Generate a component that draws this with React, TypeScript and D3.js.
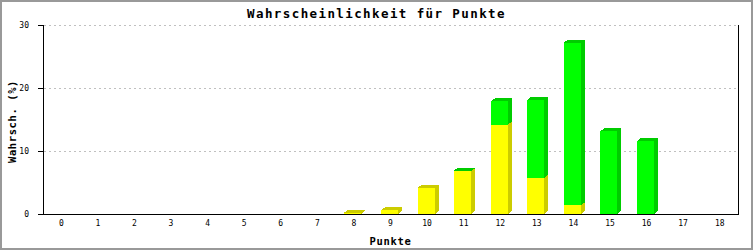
import React from "react";
import * as d3 from "d3";

const categories = ["0","1","2","3","4","5","6","7","8","9","10","11","12","13","14","15","16","17","18"];
const yellowValues = [0,0,0,0,0,0,0,0,0.2,0.6,4.2,6.8,14.2,5.7,1.4,0,0,0,0];
const greenValues = [0,0,0,0,0,0,0,0,0,0,0,0.1,3.7,12.4,25.8,13.1,11.6,0,0];
const yTicks = [0, 10, 20, 30];
const title = "Wahrscheinlichkeit für Punkte";
const xTitle = "Punkte";
const yTitle = "Wahrsch. (%)";

const W = 753, H = 250;
const L = 43, R = 738, T = 25, B = 214;
const DX = 4, DY = 3;
const BAR_W = 17;

const series = [
  { values: yellowValues, front: "#ffff00", dark: "#cccc00" },
  { values: greenValues, front: "#00ff00", dark: "#00cc00" },
];

export default function App() {
  const x = d3.scaleBand<string>().domain(categories).range([L, R]).padding(0);
  const y = d3.scaleLinear().domain([0, 30]).range([B, T]);
  const mono = "'DejaVu Sans Mono', 'Liberation Mono', monospace";

  const bars: React.ReactNode[] = [];
  categories.forEach((c, i) => {
    const cx = (x(c) as number) + x.bandwidth() / 2;
    const x0 = Math.round(cx - 9.5);
    const x1 = x0 + BAR_W;
    let base = 0;
    series.forEach((s, si) => {
      const v = s.values[i];
      if (v <= 0) return;
      const yb = y(base);
      const yt = y(base + v);
      base += v;
      bars.push(
        <g key={`${i}-${si}`}>
          <polygon
            points={`${x1},${yb} ${x1 + DX},${yb - DY} ${x1 + DX},${yt - DY} ${x1},${yt}`}
            fill={s.dark}
          />
          <polygon
            points={`${x0},${yt} ${x0 + DX},${yt - DY} ${x1 + DX},${yt - DY} ${x1},${yt}`}
            fill={s.dark}
          />
          <rect x={x0} y={yt} width={BAR_W} height={yb - yt} fill={s.front} />
        </g>
      );
    });
  });

  return (
    <svg
      width={W}
      height={H}
      style={{ position: "absolute", left: 0, top: 0, background: "#fff" }}
    >
      <rect x={1} y={1} width={W - 2} height={H - 2} fill="#fff" stroke="#999" strokeWidth={2} />
      {/* grid */}
      {yTicks.filter((t) => t > 0).map((t) => (
        <line
          key={t}
          x1={L + 1}
          x2={R}
          y1={Math.round(y(t)) + 0.5}
          y2={Math.round(y(t)) + 0.5}
          stroke="#c0c0c0"
          strokeDasharray="2,3"
        />
      ))}
      {/* bars */}
      <g shapeRendering="crispEdges">{bars}</g>
      {/* axes */}
      <line x1={L + 0.5} x2={L + 0.5} y1={T} y2={B + 1} stroke="#000" />
      <line x1={R + 0.5} x2={R + 0.5} y1={T} y2={B + 1} stroke="#000" />
      <line x1={L} x2={R + 1} y1={B + 0.5} y2={B + 0.5} stroke="#000" />
      {yTicks.map((t) => (
        <g key={t}>
          <line x1={38} x2={L} y1={Math.round(y(t)) + 0.5} y2={Math.round(y(t)) + 0.5} stroke="#000" />
          <text x={29} y={y(t) + 3} textAnchor="end" fontFamily={mono} fontSize={8} fill="#000">
            {t}
          </text>
        </g>
      ))}
      {categories.map((c) => (
        <text
          key={c}
          x={(x(c) as number) + x.bandwidth() / 2}
          y={226}
          textAnchor="middle"
          fontFamily={mono}
          fontSize={8}
          fill="#000"
        >
          {c}
        </text>
      ))}
      <text
        x={W / 2}
        y={18}
        textAnchor="middle"
        fontFamily={mono}
        fontWeight="bold"
        fontSize={12.5}
        letterSpacing={1.4}
        fill="#000"
      >
        {title}
      </text>
      <text
        x={(L + R) / 2}
        y={245}
        textAnchor="middle"
        fontFamily={mono}
        fontWeight="bold"
        fontSize={10.5}
        letterSpacing={0.7}
        fill="#000"
      >
        {xTitle}
      </text>
      <text
        transform={`translate(16,${121.5}) rotate(-90)`}
        textAnchor="middle"
        fontFamily={mono}
        fontWeight="bold"
        fontSize={10.5}
        letterSpacing={0.6}
        fill="#000"
      >
        {yTitle}
      </text>
    </svg>
  );
}
